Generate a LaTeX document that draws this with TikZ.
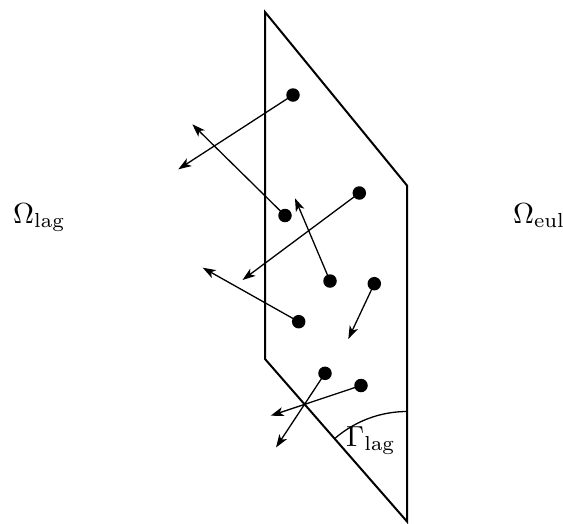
\documentclass[tikz,border=0pt]{standalone}
\usepackage{graphicx}
\usetikzlibrary{arrows.meta}
\tikzset{
  edgeline/.style={line width=2pt, line join=miter},
  vec/.style={line width=1.3pt, -{Stealth[length=13pt, width=9pt, inset=3.5pt]}},
  dot/.style={circle, fill=black, inner sep=0pt, minimum size=13.5pt},
  lbl/.style={inner sep=0pt, anchor=base west}
}
\newcommand{\biglbl}[1]{\scalebox{2.9}{#1}}
\begin{document}
\begin{tikzpicture}[x=1pt, y=-1pt]
\useasboundingbox (0,0) rectangle (563,523);
% interface parallelogram
\coordinate (p1) at (265,12);
\coordinate (p2) at (407,185.5);
\coordinate (p3) at (407,521.5);
\coordinate (p4) at (265,359);
\draw[edgeline] (p1) -- (p2) -- (p3) -- (p4) -- cycle;
% angle arc
\coordinate (arcstart) at (407,411.5);
\draw[line width=1.3pt] (arcstart) arc[start angle=90, end angle=131, radius=110pt];
% particles
\node[dot] (a) at (293,95) {};
\node[dot] (b) at (285,215.5) {};
\node[dot] (c) at (359.3,193) {};
\node[dot] (d) at (330,281) {};
\node[dot] (e) at (374.3,283.7) {};
\node[dot] (f) at (298.7,321.7) {};
\node[dot] (g) at (325,373.3) {};
\node[dot] (h) at (361,385.5) {};
% arrow tips
\coordinate (ta) at (178.3,169.3);
\coordinate (tb) at (192.3,124.3);
\coordinate (tc) at (242.5,280);
\coordinate (td) at (295,198.3);
\coordinate (te) at (348.3,339);
\coordinate (tf) at (202.7,267.7);
\coordinate (tg) at (276,447.5);
\coordinate (th) at (270.7,415.7);
\draw[vec] (a.center) -- (ta);
\draw[vec] (b.center) -- (tb);
\draw[vec] (c.center) -- (tc);
\draw[vec] (d.center) -- (td);
\draw[vec] (e.center) -- (te);
\draw[vec] (f.center) -- (tf);
\draw[vec] (g.center) -- (tg);
\draw[vec] (h.center) -- (th);
% labels
\node[lbl] (omlag) at (13,223) {\biglbl{$\Omega_{\mathrm{lag}}$}};
\node[lbl] (omeul) at (513,223) {\biglbl{$\Omega_{\mathrm{eul}}$}};
\node[lbl] (gam) at (346,446.5) {\biglbl{$\Gamma_{\mathrm{lag}}$}};
\end{tikzpicture}
\end{document}
